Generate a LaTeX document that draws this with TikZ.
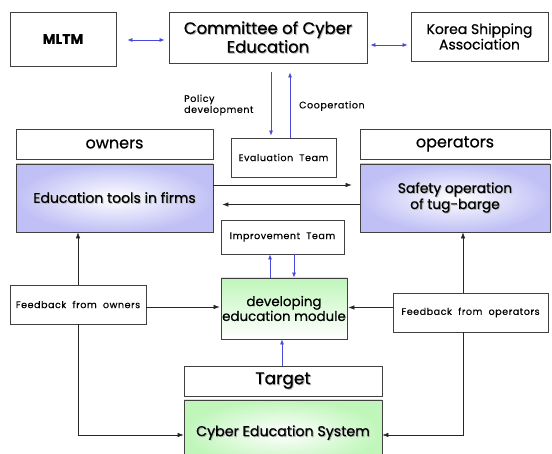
\documentclass[tikz,border=0pt]{standalone}
\usepackage{fontspec}
\setmainfont{Poppins}[FakeBold=0.6]
\newfontfamily\smallfont{Poppins}[LetterSpace=6, FakeBold=0.4]
\usetikzlibrary{arrows.meta}

\definecolor{linkblue}{RGB}{72,72,218}
\definecolor{lavender}{RGB}{192,192,246}
\definecolor{mint}{RGB}{192,246,186}

% text with a soft grey drop shadow behind it
\newcommand\shade[1]{\leavevmode\rlap{\kern0.9pt\raisebox{-0.9pt}{\textcolor{black!28}{#1}}}#1}

\tikzset{
  box/.style={draw=black!75, line width=0.8pt, fill=white, inner sep=0pt,
    align=center, text=black},
  lavbox/.style={box, shading=radial, inner color=white, outer color=lavender},
  mintradial/.style={box, shading=radial, inner color=white, outer color=mint},
  mintvert/.style={box, top color=mint, bottom color=white},
  flow/.style={draw=black!85, line width=0.6pt, -{Latex[length=6pt,width=4.5pt]}},
  bluelink/.style={draw=linkblue, line width=0.7pt, -{Latex[length=5pt,width=4pt]}},
  bluepair/.style={draw=linkblue, line width=0.7pt,
    {Latex[length=5pt,width=4pt]}-{Latex[length=5pt,width=4pt]}},
  small/.style={font=\smallfont\fontsize{9.5}{11}\selectfont},
  note/.style={small, align=left, anchor=west, inner sep=0pt},
}

\begin{document}
\begin{tikzpicture}[x=1pt, y=-1pt]
\useasboundingbox (0,0) rectangle (552,454);
\clip (0,0) rectangle (552,454);

% top row
\node[box, minimum width=106, minimum height=54, font=\fontsize{14}{16}\selectfont\bfseries]
  (mltm) at (63,39) {MLTM};
\node[box, minimum width=198, minimum height=51, font=\fontsize{16.5}{16.5}\selectfont]
  (committee) at (268,37.5) {\shade{Committee of Cyber}\\\shade{Education}};
\node[box, minimum width=137, minimum height=49, font=\fontsize{14}{13.5}\selectfont]
  (korea) at (479.5,36.5) {Korea Shipping\\Association};

% owners / operators
\node[box, minimum width=197, minimum height=30, font=\fontsize{16}{18}\selectfont]
  (owners) at (114.5,144) {owners};
\node[lavbox, minimum width=197, minimum height=68, font=\fontsize{14}{16}\selectfont]
  (tools) at (114.5,198) {\shade{Education tools in firms}};
\node[box, minimum width=190, minimum height=30, font=\fontsize{16}{18}\selectfont]
  (operators) at (455,144) {operators};
\node[lavbox, minimum width=190, minimum height=68, font=\fontsize{13.8}{13.5}\selectfont]
  (safety) at (455,198) {\shade{Safety operation}\\\shade{of tug-barge}};

% teams
\node[box, small, minimum width=105, minimum height=39]
  (evaluation) at (283.5,157.5) {Evaluation\ \ Team};
\node[box, small, minimum width=123, minimum height=34]
  (improvement) at (282.5,237) {Improvement\ \ Team};

% module and feedback
\node[mintvert, minimum width=126, minimum height=61, font=\fontsize{13.4}{13.5}\selectfont]
  (module) at (284,308.5) {developing\\education module};
\node[box, small, minimum width=136, minimum height=39]
  (fbowners) at (78,304.5) {Feedback\ \ from\ \ owners};
\node[box, small, minimum width=155, minimum height=39]
  (fboperators) at (470.5,312.5) {Feedback\ \ from\ \ operators};

% target
\node[box, minimum width=198, minimum height=30, font=\fontsize{17}{18}\selectfont]
  (target) at (283,381) {\shade{Target}};
\node[mintradial, minimum width=198, minimum height=66, font=\fontsize{14.2}{16}\selectfont]
  (cyber) at (283,433) {\shade{Cyber Education System}};

% links between the committee and its partners
\draw[bluepair, shorten <=11pt, shorten >=4pt] (mltm.east |- 0,40) -- (committee.west |- 0,40);
\draw[bluepair, shorten <=3pt, shorten >=3pt] (committee.east |- 0,45) -- (korea.west |- 0,45);
\draw[bluelink, shorten <=9pt, shorten >=2pt] (271,0 |- committee.south) -- (271,0 |- evaluation.north);
\draw[bluelink, shorten >=9pt] (290,0 |- evaluation.north) -- (290,0 |- committee.south);
\node[note] (policy) at (184,105) {Policy\\development};
\node[note] (coop) at (299,106) {Cooperation};

% owners and operators exchange
\draw[flow, shorten >=8pt] (tools.east |- 0,185) -- (safety.west |- 0,185);
\draw[flow, shorten >=9pt] (safety.west |- 0,204.5) -- (tools.east |- 0,204.5);

% feedback paths
\draw[flow] (78,0 |- fbowners.north) -- (78,0 |- tools.south);
\draw[flow] (463,0 |- fboperators.north) -- (463,0 |- safety.south);
\draw[flow, shorten >=1pt] (fbowners.east |- 0,307) -- (module.west |- 0,307);
\draw[flow, shorten >=1pt] (fboperators.west |- 0,307.5) -- (module.east |- 0,307.5);
\draw[flow] (78,0 |- fbowners.south) |- (cyber.west |- 0,435);
\draw[flow] (463,0 |- fboperators.south) |- (cyber.east |- 0,435);

% module, improvement team and target
\draw[bluelink] (270,0 |- module.north) -- (270,0 |- improvement.south);
\draw[bluelink] (294,0 |- improvement.south) -- (294,0 |- module.north);
\draw[bluelink] (282,0 |- target.north) -- (282,0 |- module.south);
\end{tikzpicture}
\end{document}
